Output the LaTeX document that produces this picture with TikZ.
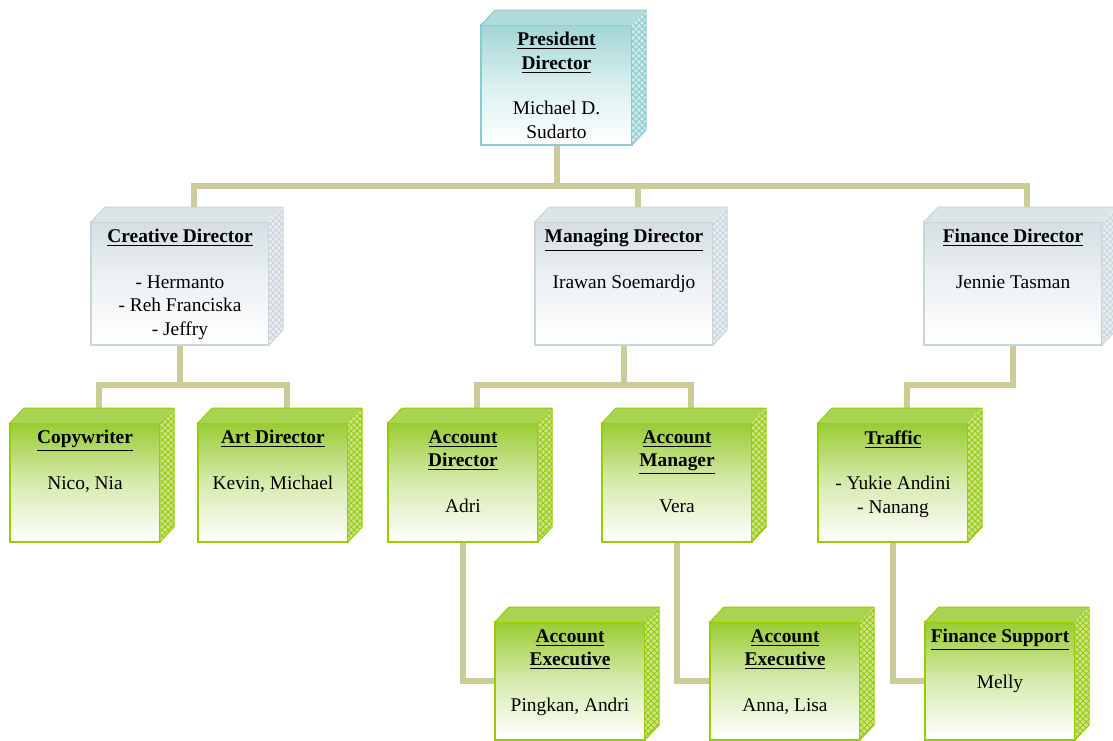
\documentclass[tikz,border=0pt]{standalone}
\usepackage{fontspec}
\setmainfont{Liberation Serif}
\usetikzlibrary{calc,patterns,backgrounds}

\definecolor{teal1}{RGB}{163,214,214}
\definecolor{teal2}{RGB}{140,203,203}
\definecolor{grey1}{RGB}{213,223,227}
\definecolor{grey2}{RGB}{200,213,218}
\definecolor{lime1}{RGB}{153,204,51}
\definecolor{lime2}{RGB}{153,204,0}
\definecolor{linkc}{RGB}{204,204,153}

\tikzset{
  link/.style={draw=linkc,line width=3pt},
  front/.style={draw=#12,line width=0.8pt,top color=#11,bottom color=white,middle color=#11!40!white,
    inner sep=0pt,outer sep=0pt,anchor=north west},
  boxtext/.style={align=center,inner sep=0pt,font=\fontsize{9.7}{11.75}\selectfont}
}

\newcommand{\ttl}[1]{\underline{\textbf{#1}}}
% name, x, y, width, height, colour, text
\newcommand{\orgbox}[7]{%
  \node[front=#6,minimum width=#4*0.5pt,minimum height=#5*0.5pt] (#1) at (#2,#3) {};
  \fill[#61!85!white] (#1.north west) -- ++(14,-15) -- ++(#4,0) -- (#1.north east) -- cycle;
  \fill[#61!55!white] (#1.north east) -- ++(14,-15) -- ++(0,#5) -- (#1.south east) -- cycle;
  \fill[pattern=crosshatch,pattern color=#62] (#1.north east) -- ++(14,-15) -- ++(0,#5) -- (#1.south east) -- cycle;
  \draw[#62,line width=0.5pt] (#1.north west) -- ++(14,-15) -- ++(#4,0) -- ++(0,#5) -- (#1.south east);
  \coordinate (#1-top) at ($(#1.north)+(14,-15)$);
  \node[boxtext,anchor=north,yshift=-3.5pt] (#1-t) at (#1.north) {#7};
}

\begin{document}
\begin{tikzpicture}[x=0.5pt,y=-0.5pt]
\useasboundingbox (0,0) rectangle (1113,740);

\orgbox{pres}{481}{25}{151}{120}{teal}{\ttl{President}\\\ttl{Director}\\[11pt]Michael D.\\Sudarto}

\orgbox{cre}{91}{222}{178}{123}{grey}{\ttl{Creative Director}\\[11pt]- Hermanto\\- Reh Franciska\\- Jeffry}
\orgbox{man}{535}{222}{178}{123}{grey}{\ttl{Managing Director}\\[11pt]Irawan Soemardjo}
\orgbox{fin}{924}{222}{178}{123}{grey}{\ttl{Finance Director}\\[11pt]Jennie Tasman}

\orgbox{copy}{10}{423}{150}{119}{lime}{\ttl{Copywriter}\\[11pt]Nico, Nia}
\orgbox{art}{198}{423}{150}{119}{lime}{\ttl{Art Director}\\[11pt]Kevin, Michael}
\orgbox{accd}{388}{423}{150}{119}{lime}{\ttl{Account}\\\ttl{Director}\\[11pt]Adri}
\orgbox{accm}{602}{423}{150}{119}{lime}{\ttl{Account}\\\ttl{Manager}\\[11pt]Vera}
\orgbox{traf}{818}{423}{150}{119}{lime}{\ttl{Traffic}\\[11pt]- Yukie Andini\\- Nanang}

\orgbox{ae1}{495}{622}{150}{118}{lime}{\ttl{Account}\\\ttl{Executive}\\[11pt]Pingkan, Andri}
\orgbox{ae2}{710}{622}{150}{118}{lime}{\ttl{Account}\\\ttl{Executive}\\[11pt]Anna, Lisa}
\orgbox{fsup}{925}{622}{150}{118}{lime}{\ttl{Finance Support}\\[11pt]Melly}

\begin{pgfonlayer}{background}
\coordinate (busA) at (0,186);
\coordinate (busB) at (0,385);
\draw[link] (pres.south) -- (pres.south |- busA);
\draw[link] (cre-top) -- (cre-top |- busA) -- (fin-top |- busA) -- (fin-top);
\draw[link] (man-top) -- (man-top |- busA);
\draw[link] (cre.south) -- (cre.south |- busB);
\draw[link] (copy-top) -- (copy-top |- busB) -- (art-top |- busB) -- (art-top);
\draw[link] (man.south) -- (man.south |- busB);
\draw[link] (accd-top) -- (accd-top |- busB) -- (accm-top |- busB) -- (accm-top);
\draw[link] (fin.south) -- (fin.south |- busB) -- (traf-top |- busB) -- (traf-top);
\draw[link] (accd.south) |- (ae1.west);
\draw[link] (accm.south) |- (ae2.west);
\draw[link] (traf.south) |- (fsup.west);
\end{pgfonlayer}
\end{tikzpicture}
\end{document}
